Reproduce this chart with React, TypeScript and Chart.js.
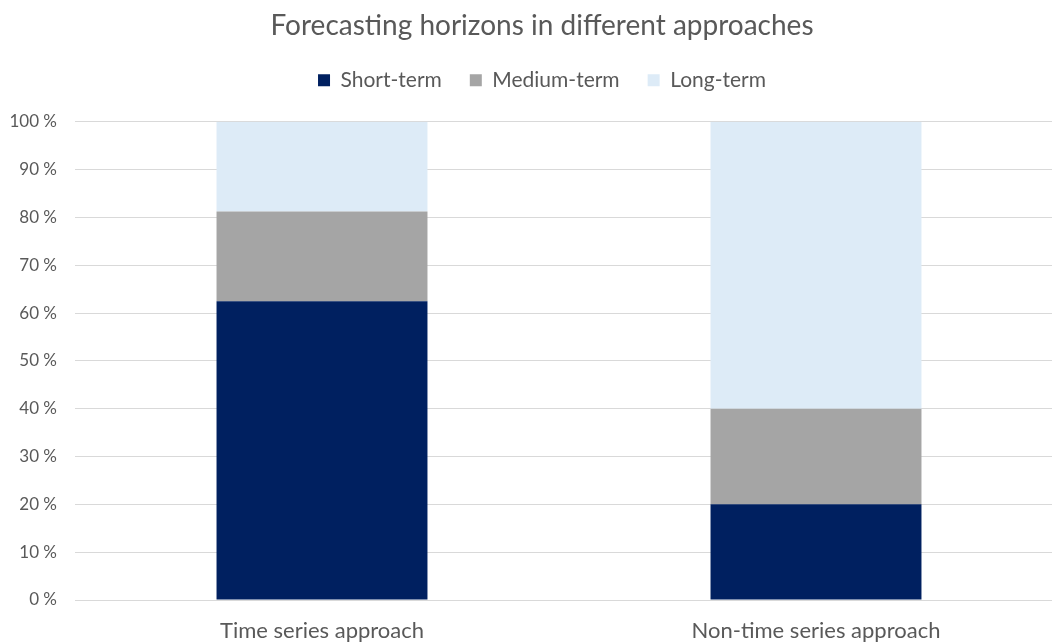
import React, { useEffect, useRef } from "react";
import { Chart, registerables } from "chart.js";

Chart.register(...registerables);

const categories = ["Time series approach", "Non-time series approach"];
const shortTerm = [62.5, 20];
const mediumTerm = [18.75, 20];
const longTerm = [18.75, 60];
const yTicks = [0, 10, 20, 30, 40, 50, 60, 70, 80, 90, 100];

const FONT = "Lato, 'Open Sans', sans-serif";
const TEXT = "#595959";

// Adds extra room under the legend before the plot area starts
const legendGap = {
  id: "legendGap",
  beforeInit(chart: any) {
    const legend = chart.legend;
    if (!legend) return;
    const fit = legend.fit;
    legend.fit = function () {
      fit.call(this);
      this.height += 21;
    };
  },
};

export default function App() {
  const ref = useRef<HTMLCanvasElement | null>(null);

  useEffect(() => {
    if (!ref.current) return;
    const chart = new Chart(ref.current, {
      type: "bar",
      data: {
        labels: categories,
        datasets: [
          { label: "Short-term", data: shortTerm, backgroundColor: "#002060" },
          { label: "Medium-term", data: mediumTerm, backgroundColor: "#A5A5A5" },
          { label: "Long-term", data: longTerm, backgroundColor: "#DDEBF7" },
        ],
      },
      options: {
        animation: false,
        responsive: true,
        maintainAspectRatio: false,
        layout: { padding: 0 },
        datasets: {
          bar: { categoryPercentage: 1, barPercentage: 0.427 },
        },
        plugins: {
          title: {
            display: true,
            text: "Forecasting horizons in different approaches",
            color: TEXT,
            font: { family: FONT, size: 28, weight: "normal", lineHeight: 1.1 },
            padding: { top: 11, bottom: 0 },
          },
          legend: {
            position: "top",
            labels: {
              color: TEXT,
              font: { family: FONT, size: 21 },
              boxWidth: 12,
              boxHeight: 12,
              padding: 28,
            },
          },
          tooltip: { enabled: false },
        },
        scales: {
          x: {
            stacked: true,
            grid: { display: false },
            border: { display: false },
            ticks: {
              color: TEXT,
              font: { family: FONT, size: 22 },
              padding: 10,
              maxRotation: 0,
            },
            afterFit: (scale: any) => {
              scale.height = 42;
            },
          },
          y: {
            stacked: true,
            min: 0,
            max: 100,
            afterBuildTicks: (scale: any) => {
              scale.ticks = yTicks.map((v) => ({ value: v }));
            },
            grid: { color: "#D9D9D9", drawTicks: false },
            border: { display: false },
            ticks: {
              color: TEXT,
              font: { family: FONT, size: 17 },
              padding: 18,
              callback: (v: any) => `${v} %`,
            },
            afterFit: (scale: any) => {
              scale.width = 75;
            },
          },
          // empty right-hand margin of the plot area
          yRight: {
            position: "right",
            display: true,
            grid: { display: false },
            border: { display: false },
            ticks: { display: false },
            afterFit: (scale: any) => {
              scale.width = 21;
            },
          },
        },
      },
      plugins: [legendGap],
    });
    return () => chart.destroy();
  }, []);

  return (
    <div
      style={{
        position: "fixed",
        left: 0,
        top: 0,
        width: 1052,
        height: 642,
        overflow: "hidden",
        background: "#fff",
      }}
    >
      <div style={{ position: "relative", width: 1084, height: 642 }}>
        <canvas ref={ref} />
      </div>
    </div>
  );
}
